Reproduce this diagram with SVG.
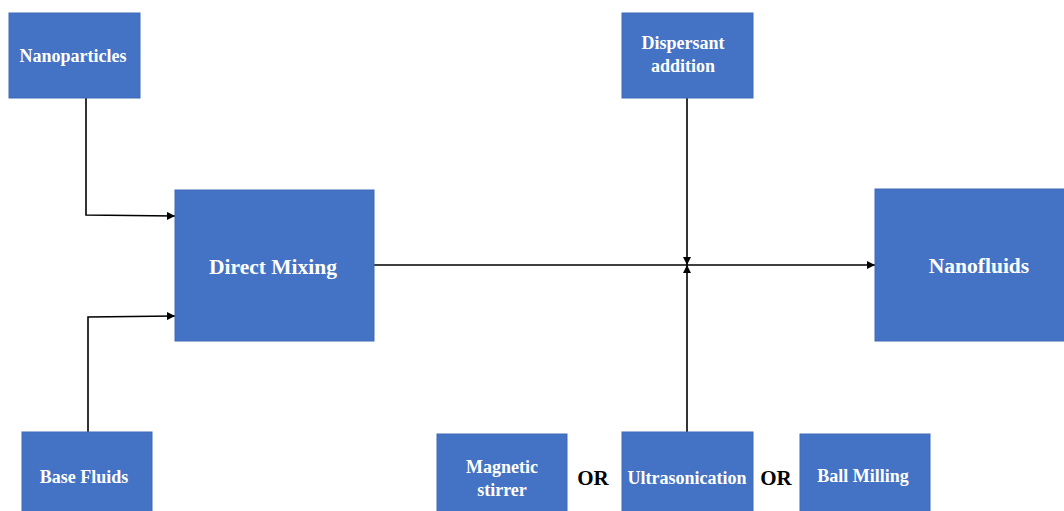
<svg xmlns="http://www.w3.org/2000/svg" width="1064" height="511" viewBox="0 0 1064 511">
<style>
.box{fill:#4472C4;stroke:#3F6AB5;stroke-width:1}
text{font-family:'Liberation Serif','Times New Roman',serif;font-weight:bold;text-anchor:middle}
.t{fill:#ffffff}
.s{font-size:18px}
.l{font-size:21.5px}
.or{fill:#000000;font-size:21px}
.c{fill:none;stroke:#000000;stroke-width:1.6}
</style>
<defs>
<marker id="ah" viewBox="0 0 10 10" refX="10" refY="5" markerWidth="5" markerHeight="5" orient="auto" markerUnits="strokeWidth">
<path d="M0,0 L10,5 L0,10 z" fill="#000000"/>
</marker>
</defs>
<rect width="1064" height="511" fill="#ffffff"/>
<g id="connectors">
<path class="c" d="M86,98 L86,215 L175,216" marker-end="url(#ah)"/>
<path class="c" d="M88,432 L88,317 L175,316" marker-end="url(#ah)"/>
<path class="c" d="M374,265 L875,265" marker-end="url(#ah)"/>
<path class="c" d="M687,98 L687,265" marker-end="url(#ah)"/>
<path class="c" d="M687,432 L687,265" marker-end="url(#ah)"/>
</g>
<g id="nanoparticles">
<rect class="box" x="9" y="13" width="131" height="85"/>
<text class="t s" x="73" y="62">Nanoparticles</text>
</g>
<g id="direct-mixing">
<rect class="box" x="175" y="190" width="199" height="151"/>
<text class="t l" x="273" y="274">Direct Mixing</text>
</g>
<g id="base-fluids">
<rect class="box" x="22" y="432" width="130" height="85"/>
<text class="t s" x="84" y="483">Base Fluids</text>
</g>
<g id="dispersant">
<rect class="box" x="622" y="13" width="131" height="85"/>
<text class="t s" x="683" y="49">Dispersant</text>
<text class="t s" x="683" y="72">addition</text>
</g>
<g id="nanofluids">
<rect class="box" x="875" y="189" width="195" height="152"/>
<text class="t l" x="979" y="273">Nanofluids</text>
</g>
<g id="magnetic-stirrer">
<rect class="box" x="437" y="434" width="130" height="85"/>
<text class="t s" x="502" y="473">Magnetic</text>
<text class="t s" x="502" y="496">stirrer</text>
</g>
<g id="ultrasonication">
<rect class="box" x="622" y="432" width="131" height="85"/>
<text class="t s" x="687" y="484">Ultrasonication</text>
</g>
<g id="ball-milling">
<rect class="box" x="800" y="434" width="130" height="85"/>
<text class="t s" x="863" y="482">Ball Milling</text>
</g>
<text class="or" x="593" y="485">OR</text>
<text class="or" x="776" y="485">OR</text>
</svg>
